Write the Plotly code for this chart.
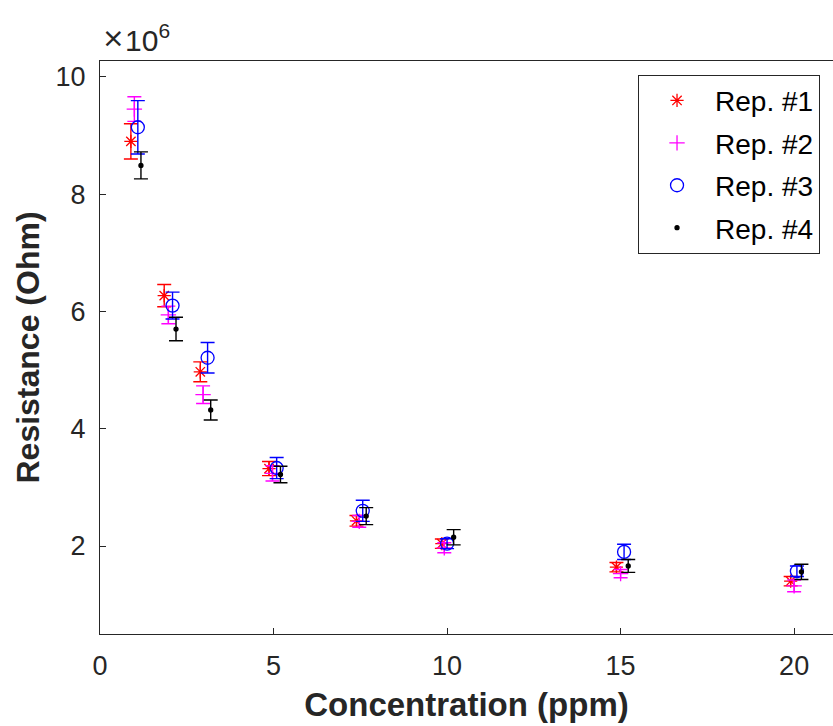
import plotly.graph_objects as go

# Data (resistance in units of 1e6 Ohm)
rep1_x = [0.89, 1.85, 2.89, 4.87, 7.39, 9.85, 14.88, 19.90]
rep1_y = [8.90, 6.27, 4.97, 3.32, 2.43, 2.04, 1.64, 1.40]
rep1_e = [0.30, 0.19, 0.17, 0.12, 0.09, 0.08, 0.08, 0.08]

rep2_x = [0.99, 1.97, 2.97, 4.97, 7.47, 9.92, 15.00, 20.00]
rep2_y = [9.45, 5.94, 4.58, 3.24, 2.42, 1.97, 1.53, 1.32]
rep2_e = [0.21, 0.15, 0.15, 0.13, 0.10, 0.085, 0.07, 0.10]

rep3_x = [1.09, 2.09, 3.10, 5.09, 7.57, 10.00, 15.10, 20.08]
rep3_y = [9.14, 6.10, 5.21, 3.33, 2.60, 2.04, 1.90, 1.57]
rep3_e = [0.455, 0.23, 0.26, 0.18, 0.18, 0.085, 0.13, 0.09]

rep4_x = [1.18, 2.19, 3.19, 5.20, 7.67, 10.19, 15.22, 20.21]
rep4_y = [8.49, 5.70, 4.32, 3.22, 2.51, 2.15, 1.66, 1.56]
rep4_e = [0.23, 0.20, 0.17, 0.14, 0.145, 0.13, 0.11, 0.13]

names = ["Rep. #1", "Rep. #2", "Rep. #3", "Rep. #4"]
scale = 1e6

x_ticks = [0, 5, 10, 15, 20]
y_ticks = [2, 4, 6, 8, 10]

series = [
    (rep1_x, rep1_y, rep1_e, "#FF0000", "asterisk-open", 11),
    (rep2_x, rep2_y, rep2_e, "#FF00FF", "cross-thin-open", 11),
    (rep3_x, rep3_y, rep3_e, "#0000FF", "circle-open", 13),
    (rep4_x, rep4_y, rep4_e, "#000000", "circle", 4),
]

FONT = "Liberation Sans, Arial, Helvetica, sans-serif"
AX = "#262626"

fig = go.Figure()
for i, (xs, ys, es, col, sym, sz) in enumerate(series):
    fig.add_trace(go.Scatter(
        x=xs,
        y=[v * scale for v in ys],
        mode="markers",
        name=names[i],
        legendgroup=names[i],
        marker=dict(symbol=sym, size=sz, color=col,
                    line=dict(color=col, width=1.3)),
        error_y=dict(type="data", array=[e * scale for e in es],
                     visible=True, color=col, thickness=1.4, width=7),
    ))

fig.update_layout(
    width=833, height=726,
    margin=dict(l=100, r=0, t=61, b=92),
    paper_bgcolor="white", plot_bgcolor="white",
    font=dict(family=FONT, color=AX),
    showlegend=True,
    legend=dict(
        x=0.734, y=0.976, xanchor="left", yanchor="top",
        bgcolor="white", bordercolor="#262626", borderwidth=1,
        font=dict(size=28, color="#000000", family=FONT),
        tracegroupgap=3,
        itemwidth=66,
    ),
    xaxis=dict(
        range=[0, 21.12],
        tickvals=x_ticks, ticktext=[str(t) for t in x_ticks],
        ticks="inside", ticklen=6, tickcolor=AX, tickwidth=1,
        showline=True, linecolor=AX, linewidth=1, mirror=True,
        showgrid=False, zeroline=False,
        tickfont=dict(size=27, color=AX),
        ticklabelstandoff=8,
        title=dict(text="<b>Concentration (ppm)</b>",
                   font=dict(size=33, color=AX), standoff=12),
    ),
    yaxis=dict(
        range=[0.5e6, 10.27e6],
        tickvals=[t * scale for t in y_ticks], ticktext=[str(t) for t in y_ticks],
        ticks="inside", ticklen=6, tickcolor=AX, tickwidth=1,
        showline=True, linecolor=AX, linewidth=1, mirror=False,
        showgrid=False, zeroline=False,
        tickfont=dict(size=27, color=AX),
        ticklabelstandoff=8,
        title=dict(text="<b>Resistance (Ohm)</b>",
                   font=dict(size=32, color=AX), standoff=6),
    ),
    annotations=[
        dict(text="×", xref="paper", yref="paper",
             x=0.0, y=1.0, xanchor="left", yanchor="bottom",
             yshift=6, xshift=0, showarrow=False,
             font=dict(size=27, color=AX, family="DejaVu Sans, sans-serif")),
        dict(text="10<sup>6</sup>", xref="paper", yref="paper",
             x=0.0, y=1.0, xanchor="left", yanchor="bottom",
             yshift=2, xshift=23, showarrow=False,
             font=dict(size=30, color=AX, family=FONT)),
    ],
)

fig.write_html("out.html")
